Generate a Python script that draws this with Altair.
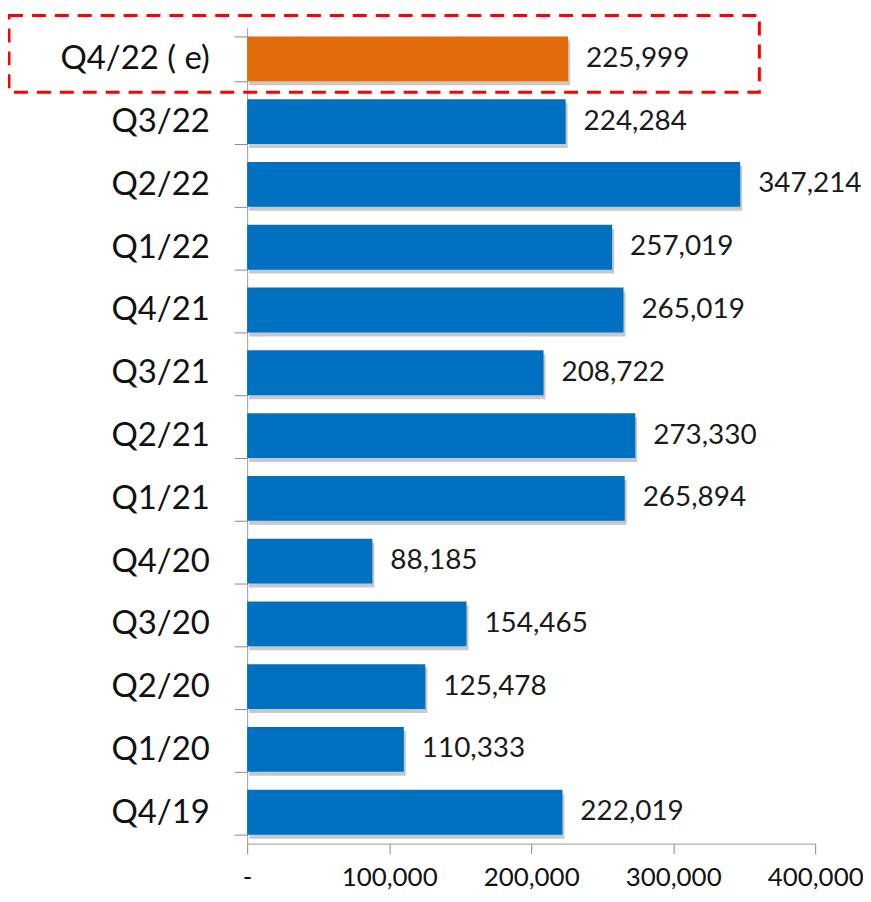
import altair as alt
import pandas as pd

quarters = ["Q4/22 ( e)", "Q3/22", "Q2/22", "Q1/22", "Q4/21", "Q3/21", "Q2/21",
            "Q1/21", "Q4/20", "Q3/20", "Q2/20", "Q1/20", "Q4/19"]
values = [225999, 224284, 347214, 257019, 265019, 208722, 273330,
          265894, 88185, 154465, 125478, 110333, 222019]
kinds = ["Estimate"] + ["Actual"] * 12
x_ticks = [0, 100000, 200000, 300000, 400000]

df = pd.DataFrame({"quarter": quarters, "value": values, "kind": kinds})

FONT = "Lato"

y_enc = alt.Y("quarter:N", sort=quarters, title=None,
              scale=alt.Scale(paddingInner=0.286, paddingOuter=0.143),
              axis=alt.Axis(labelFont=FONT, labelFontSize=33, labelColor="#111111",
                            labelPadding=25, tickSize=13, tickBand="extent",
                            tickColor="#888888", domainColor="#999999",
                            labelLimit=300, grid=False))
x_enc = alt.X("value:Q", title=None,
              scale=alt.Scale(domain=[0, 400000], nice=False),
              axis=alt.Axis(values=x_ticks, labelFont=FONT, labelFontSize=26,
                            labelColor="#111111", labelPadding=11, tickSize=10,
                            tickColor="#888888", domainColor="#999999", grid=False,
                            labelOverlap=False, labelFlush=False,
                            labelExpr="datum.value == 0 ? '-' : format(datum.value, ',')"))

base = alt.Chart(df)

shadow = base.mark_bar(color="#9a9a9a", opacity=0.55, yOffset=4, xOffset=2).encode(
    y=y_enc, x=x_enc)

bars = base.mark_bar().encode(
    y=y_enc, x=x_enc,
    color=alt.Color("kind:N", legend=None,
                    scale=alt.Scale(domain=["Estimate", "Actual"],
                                    range=["#E36C0A", "#0070C0"])))

labels = base.mark_text(align="left", baseline="middle", dx=18, font=FONT,
                        fontSize=28, color="#1a1a1a").encode(
    y=alt.Y("quarter:N", sort=quarters),
    x="value:Q",
    text=alt.Text("value:Q", format=",.0f"))

box = alt.Chart(pd.DataFrame({"k": [0]})).mark_rect(
    fill=None, stroke="#FF0000", strokeWidth=3, strokeDash=[14, 9]).encode(
    x=alt.value(-239), x2=alt.value(514), y=alt.value(-12), y2=alt.value(65))

chart = alt.layer(shadow, bars, labels, box).properties(
    width=570, height=819,
    autosize=alt.AutoSizeParams(type="none"),
    padding={"left": 240, "top": 18, "right": 48, "bottom": 49}
).configure_view(stroke=None)

chart.save("out.html", embed_options={"renderer": "svg", "actions": False})
